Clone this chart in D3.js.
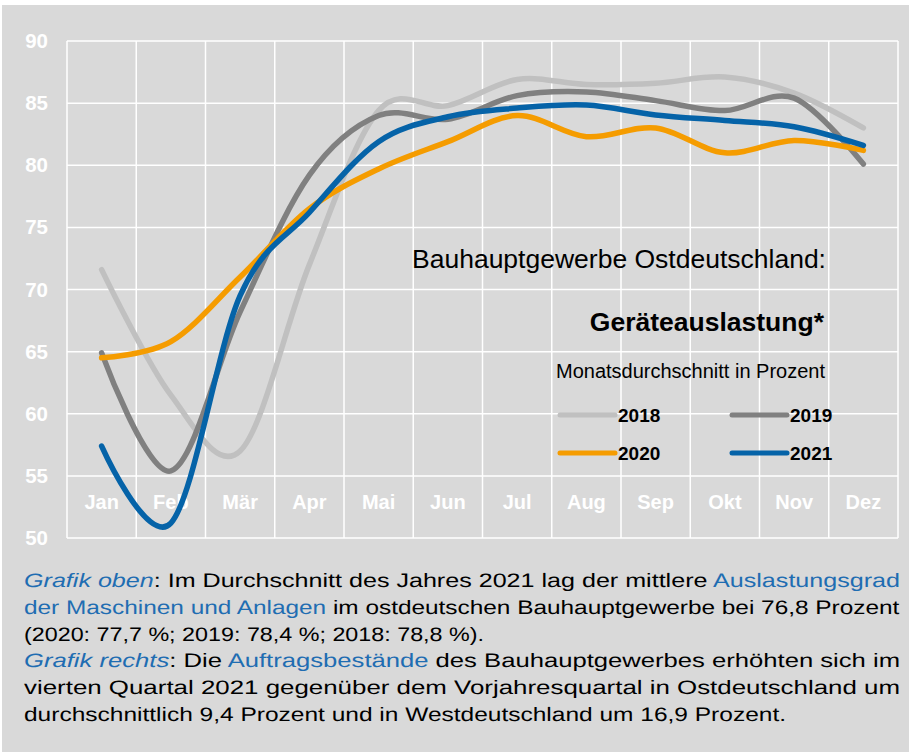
<!DOCTYPE html>
<html>
<head>
<meta charset="utf-8">
<script src="https://cdn.jsdelivr.net/npm/d3@7"></script>
<style>
	body { margin: 0; background: #fff; }
	svg { display: block; font-family: 'Liberation Sans', Arial, sans-serif; }
</style>
</head>
<body>
<svg></svg>
<script>

const months = ['Jan', 'Feb', 'Mär', 'Apr', 'Mai', 'Jun', 'Jul', 'Aug', 'Sep', 'Okt', 'Nov', 'Dez']
const yTicks = [50, 55, 60, 65, 70, 75, 80, 85, 90]

const v2018 = [71.6, 61.5, 57.0, 72.0, 84.4, 84.8, 86.9, 86.5, 86.6, 87.1, 85.8, 83.0]
const v2019 = [64.9, 55.4, 68.2, 79.2, 84.0, 83.7, 85.6, 85.9, 85.2, 84.4, 85.4, 80.1]
const v2020 = [64.5, 65.8, 71.0, 76.5, 79.7, 81.9, 84.0, 82.3, 83.0, 81.0, 82.0, 81.2]
const v2021 = [57.4, 51.2, 69.5, 76.2, 81.9, 83.9, 84.6, 84.85, 84.05, 83.6, 83.1, 81.6]

const years = ['2018', '2019', '2020', '2021']
const colors = ['#c0c0c0', '#808080', '#f59c00', '#0563a8']

let width = 909, height = 752
let plotL = 67, plotR = 898, plotT = 41, plotB = 538

let svg = d3.select('svg')
.attr('width', width)
.attr('height', height)

// grey panel
svg.append('rect')
.attr('x', 2).attr('y', 5)
.attr('width', width - 2).attr('height', height - 5)
.attr('fill', '#d9d9d9')

let scX = d3.scaleBand()
.domain(months)
.range([plotL, plotR])

let scY = d3.scaleLinear()
.domain([50, 90])
.range([plotB, plotT])

const cx = m => scX(m) + scX.bandwidth() / 2

// grid
let grid = svg.append('g').attr('stroke', '#fff').attr('stroke-width', 1.5)
grid.selectAll('.h').data(yTicks).enter().append('line')
.attr('x1', plotL).attr('x2', plotR)
.attr('y1', d => scY(d)).attr('y2', d => scY(d))
grid.selectAll('.v').data(months.concat(['end'])).enter().append('line')
.attr('x1', (d, i) => plotL + i * scX.bandwidth())
.attr('x2', (d, i) => plotL + i * scX.bandwidth())
.attr('y1', plotT).attr('y2', plotB)

// y axis
let axY = d3.axisLeft(scY).tickValues(yTicks).tickSize(0).tickPadding(19)
svg.append('g')
.attr('transform', `translate(${plotL}, 0)`)
.call(axY)
.call(g => g.select('.domain').remove())
.selectAll('text')
.attr('fill', '#fff')
.style('font-size', '20.5px')
.style('font-weight', 'bold')
.style('font-family', "'Liberation Sans', Arial, sans-serif")

// month labels inside the plot
let axX = d3.axisBottom(scX).tickSize(0).tickPadding(0)
svg.append('g')
.attr('transform', 'translate(0, 495)')
.call(axX)
.call(g => g.select('.domain').remove())
.selectAll('text')
.attr('fill', '#fff')
.style('font-size', '20px')
.style('font-weight', 'bold')
.style('font-family', "'Liberation Sans', Arial, sans-serif")

// lines (uniform catmull-rom, close to excel smoothing)
const series = [v2018, v2019, v2020, v2021]
let line = d3.line()
.x((d, i) => cx(months[i]))
.y(d => scY(d))
.curve(d3.curveCatmullRom.alpha(0))

svg.append('g')
.selectAll('path')
.data(series).enter().append('path')
.attr('d', d => line(d))
.attr('fill', 'none')
.attr('stroke', (d, i) => colors[i])
.attr('stroke-width', 5.5)
.attr('stroke-linecap', 'round')

// titles
svg.append('text')
.attr('x', 826).attr('y', 268)
.attr('text-anchor', 'end')
.style('font-size', '26.5px')
.text('Bauhauptgewerbe Ostdeutschland:')

svg.append('text')
.attr('x', 824).attr('y', 331)
.attr('text-anchor', 'end')
.style('font-size', '26.5px')
.style('font-weight', 'bold')
.text('Geräteauslastung*')

svg.append('text')
.attr('x', 825).attr('y', 378)
.attr('text-anchor', 'end')
.style('font-size', '20px')
.text('Monatsdurchschnitt in Prozent')

// legend
let legend = svg.append('g')
.selectAll('g')
.data(years).enter().append('g')
.attr('transform', (d, i) => `translate(${i % 2 ? 732 : 560}, ${i < 2 ? 415 : 453})`)

legend.append('line')
.attr('x1', 0).attr('x2', 55)
.attr('stroke', (d, i) => colors[i])
.attr('stroke-width', 5)
.attr('stroke-linecap', 'round')

legend.append('text')
.attr('x', 58).attr('y', 7)
.style('font-size', '19px')
.style('font-weight', 'bold')
.text(d => d)

// caption below the chart
const blue = '#1f6db2'
const caption = [
	{ len: 876, parts: [['Grafik oben', blue, true], [': Im Durchschnitt des Jahres 2021 lag der mittlere '], ['Auslastungsgrad', blue]] },
	{ len: 876, parts: [['der Maschinen und Anlagen', blue], [' im ostdeutschen Bauhauptgewerbe bei 76,8 Prozent']] },
	{ len: 460, parts: [['(2020: 77,7 %; 2019: 78,4 %; 2018: 78,8 %).']] },
	{ len: 876, parts: [['Grafik rechts', blue, true], [': Die '], ['Auftragsbestände', blue], [' des Bauhauptgewerbes erhöhten sich im']] },
	{ len: 876, parts: [['vierten Quartal 2021 gegenüber dem Vorjahresquartal in Ostdeutschland um']] },
	{ len: 762, parts: [['durchschnittlich 9,4 Prozent und in Westdeutschland um 16,9 Prozent.']] }
]

let cap = svg.append('g')
.attr('text-rendering', 'geometricPrecision')
.selectAll('text')
.data(caption).enter().append('text')
.style('font-size', '19.5px')

cap.selectAll('tspan')
.data(d => d.parts).enter().append('tspan')
.attr('fill', d => d[1] || '#000')
.style('font-style', d => d[2] ? 'italic' : 'normal')
.text(d => d[0])

// stretch every line to its measured width in the picture
cap.each(function (d, i) {
	let k = d.len / this.getBBox().width
	d3.select(this).attr('transform', `translate(24, ${587 + i * 26.8}) scale(${k}, 1)`)
})

</script>
</body>
</html>
